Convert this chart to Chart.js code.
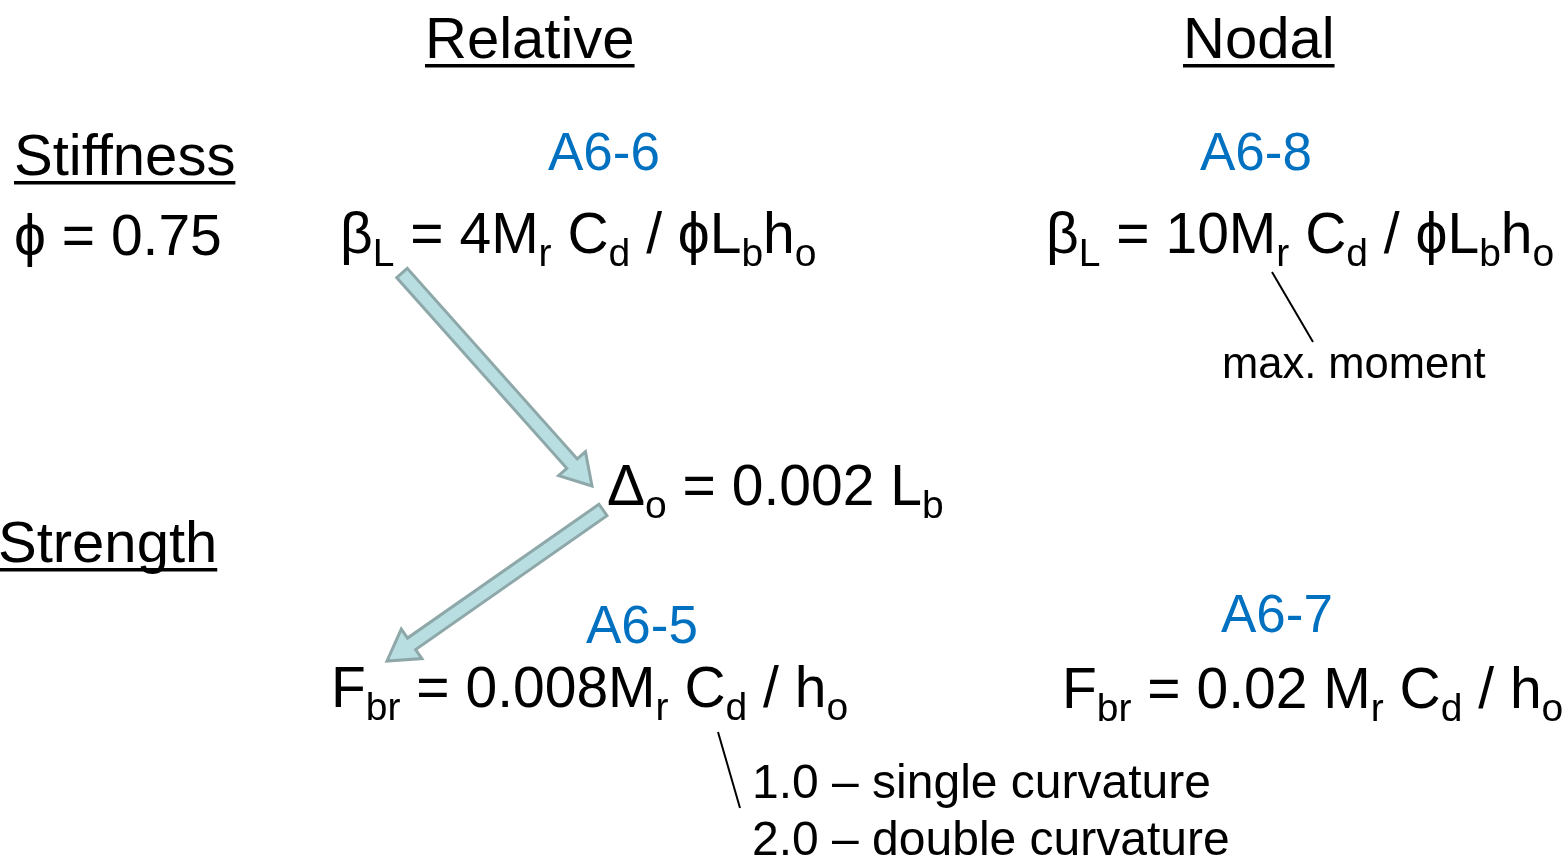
<!DOCTYPE html>
<html>
<head>
<meta charset="utf-8">
<script src="https://cdn.jsdelivr.net/npm/chart.js@4"></script>
<style>
  html, body { margin: 0; padding: 0; background: #fff; }
  #wrap { width: 1564px; height: 867px; }
</style>
</head>
<body>
<div id="wrap"><canvas id="slide" width="1564" height="867"></canvas></div>
<script>
// content
const headings = ['Relative', 'Nodal'];
const rowLabels = ['Stiffness', 'Strength'];
const phiLine = [['ϕ = 0.75', 'n']];
const eqNumbers = ['A6-6', 'A6-8', 'A6-5', 'A6-7'];

// formulas as [text, 'n' normal | 's' subscript]
const stiffRelative = [['β', 'n'], ['L', 's'], [' = 4M', 'n'], ['r', 's'], [' C', 'n'], ['d', 's'], [' / ϕL', 'n'], ['b', 's'], ['h', 'n'], ['o', 's']];
const stiffNodal = [['β', 'n'], ['L', 's'], [' = 10M', 'n'], ['r', 's'], [' C', 'n'], ['d', 's'], [' / ϕL', 'n'], ['b', 's'], ['h', 'n'], ['o', 's']];
const deltaLine = [['Δ', 'n'], ['o', 's'], [' = 0.002 L', 'n'], ['b', 's']];
const strRelative = [['F', 'n'], ['br', 's'], [' = 0.008M', 'n'], ['r', 's'], [' C', 'n'], ['d', 's'], [' / h', 'n'], ['o', 's']];
const strNodal = [['F', 'n'], ['br', 's'], [' = 0.02 M', 'n'], ['r', 's'], [' C', 'n'], ['d', 's'], [' / h', 'n'], ['o', 's']];

const notes = ['max. moment', '1.0 – single curvature', '2.0 – double curvature'];

// anchor points in slide units (x, baseline y)
const headingPos = [[425, 58], [1183, 58]];
const rowLabelPos = [[14, 175], [-2, 562]];
const eqNumberPos = [[604, 170], [1256, 170], [642, 643], [1277, 632]];
const formulaPos = [[340, 253], [1046, 253], [607, 505], [331, 707], [1062, 708], [14, 255]];
const notePos = [[1222, 378], [752, 798], [752, 855]];
const noteSizes = [43.5, 48, 48];

// arrows: tail -> tip
const arrowRelStiff = [{ x: 402, y: 273 }, { x: 592, y: 486 }];
const arrowDeltaStr = [{ x: 603, y: 510 }, { x: 387, y: 661 }];
// leader lines
const leaderMax = [{ x: 1272, y: 272 }, { x: 1313, y: 342 }];
const leaderCd = [{ x: 718, y: 732 }, { x: 740, y: 808 }];

const FONT = '"Liberation Sans", Arial, sans-serif';
const BLUE = '#0070C0';
const HEAD = 58;
const MAIN = 57;
const SUB = 39;
const SUB_DROP = 13;

function drawRich(ctx, segs, x, y) {
    ctx.fillStyle = '#000';
    ctx.textBaseline = 'alphabetic';
    ctx.textAlign = 'left';
    segs.forEach(([t, k]) => {
        ctx.font = (k === 's' ? SUB : MAIN) + 'px ' + FONT;
        ctx.fillText(t, x, k === 's' ? y + SUB_DROP : y);
        x += ctx.measureText(t).width;
    });
}

function drawBlockArrow(ctx, t, p) {
    const dx = p.x - t.x, dy = p.y - t.y;
    const len = Math.hypot(dx, dy);
    const ux = dx / len, uy = dy / len;
    const nx = -uy, ny = ux;
    const w = 7, hw = 18, hl = 30;
    const bx = p.x - ux * hl, by = p.y - uy * hl;
    ctx.beginPath();
    ctx.moveTo(t.x + nx * w, t.y + ny * w);
    ctx.lineTo(bx + nx * w, by + ny * w);
    ctx.lineTo(bx + nx * hw, by + ny * hw);
    ctx.lineTo(p.x, p.y);
    ctx.lineTo(bx - nx * hw, by - ny * hw);
    ctx.lineTo(bx - nx * w, by - ny * w);
    ctx.lineTo(t.x - nx * w, t.y - ny * w);
    ctx.closePath();
    ctx.fillStyle = '#b9dee1';
    ctx.fill();
    ctx.lineWidth = 3;
    ctx.lineJoin = 'miter';
    ctx.strokeStyle = '#8ea8aa';
    ctx.stroke();
}

const slidePlugin = {
    id: 'slideText',
    afterDatasetsDraw(chart) {
        const ctx = chart.ctx;
        const sx = chart.scales.x, sy = chart.scales.y;
        const px = (v) => sx.getPixelForValue(v);
        const py = (v) => sy.getPixelForValue(v);
        ctx.save();

        // block arrows from the hidden arrow datasets
        chart.data.datasets.forEach((ds) => {
            if (ds.blockArrow) {
                const a = { x: px(ds.data[0].x), y: py(ds.data[0].y) };
                const b = { x: px(ds.data[1].x), y: py(ds.data[1].y) };
                drawBlockArrow(ctx, a, b);
            }
        });

        // underlined headings
        const underlined = headings.map((t, i) => [t, headingPos[i]])
            .concat(rowLabels.map((t, i) => [t, rowLabelPos[i]]));
        ctx.fillStyle = '#000';
        ctx.textAlign = 'left';
        ctx.textBaseline = 'alphabetic';
        ctx.font = HEAD + 'px ' + FONT;
        underlined.forEach(([t, pos]) => {
            const x = px(pos[0]), y = py(pos[1]);
            ctx.fillText(t, x, y);
            const w = ctx.measureText(t).width;
            ctx.fillRect(x, y + 6, w, 3.5);
        });

        // equation numbers
        ctx.fillStyle = BLUE;
        ctx.textAlign = 'center';
        ctx.font = '53px ' + FONT;
        eqNumbers.forEach((t, i) => {
            ctx.fillText(t, px(eqNumberPos[i][0]), py(eqNumberPos[i][1]));
        });

        // formulas
        [stiffRelative, stiffNodal, deltaLine, strRelative, strNodal, phiLine].forEach((segs, i) => {
            drawRich(ctx, segs, px(formulaPos[i][0]), py(formulaPos[i][1]));
        });

        // notes
        ctx.fillStyle = '#000';
        ctx.textAlign = 'left';
        notes.forEach((t, i) => {
            ctx.font = noteSizes[i] + 'px ' + FONT;
            ctx.fillText(t, px(notePos[i][0]), py(notePos[i][1]));
        });

        ctx.restore();
    }
};

const leaderStyle = { type: 'line', borderColor: '#000', borderWidth: 2, pointRadius: 0, fill: false };

new Chart(document.getElementById('slide'), {
    type: 'scatter',
    data: {
        datasets: [
            { ...leaderStyle, label: 'max moment', data: leaderMax, showLine: true },
            { ...leaderStyle, label: 'Cd', data: leaderCd, showLine: true },
            { label: 'arrow1', data: arrowRelStiff, pointRadius: 0, showLine: false, blockArrow: true },
            { label: 'arrow2', data: arrowDeltaStr, pointRadius: 0, showLine: false, blockArrow: true },
        ],
    },
    options: {
        responsive: false,
        animation: false,
        devicePixelRatio: 1,
        layout: { padding: 0 },
        plugins: { legend: { display: false }, tooltip: { enabled: false } },
        events: [],
        scales: {
            x: { type: 'linear', min: 0, max: 1564, display: false },
            y: { type: 'linear', min: 0, max: 867, reverse: true, display: false },
        },
    },
    plugins: [slidePlugin],
});
</script>
</body>
</html>
